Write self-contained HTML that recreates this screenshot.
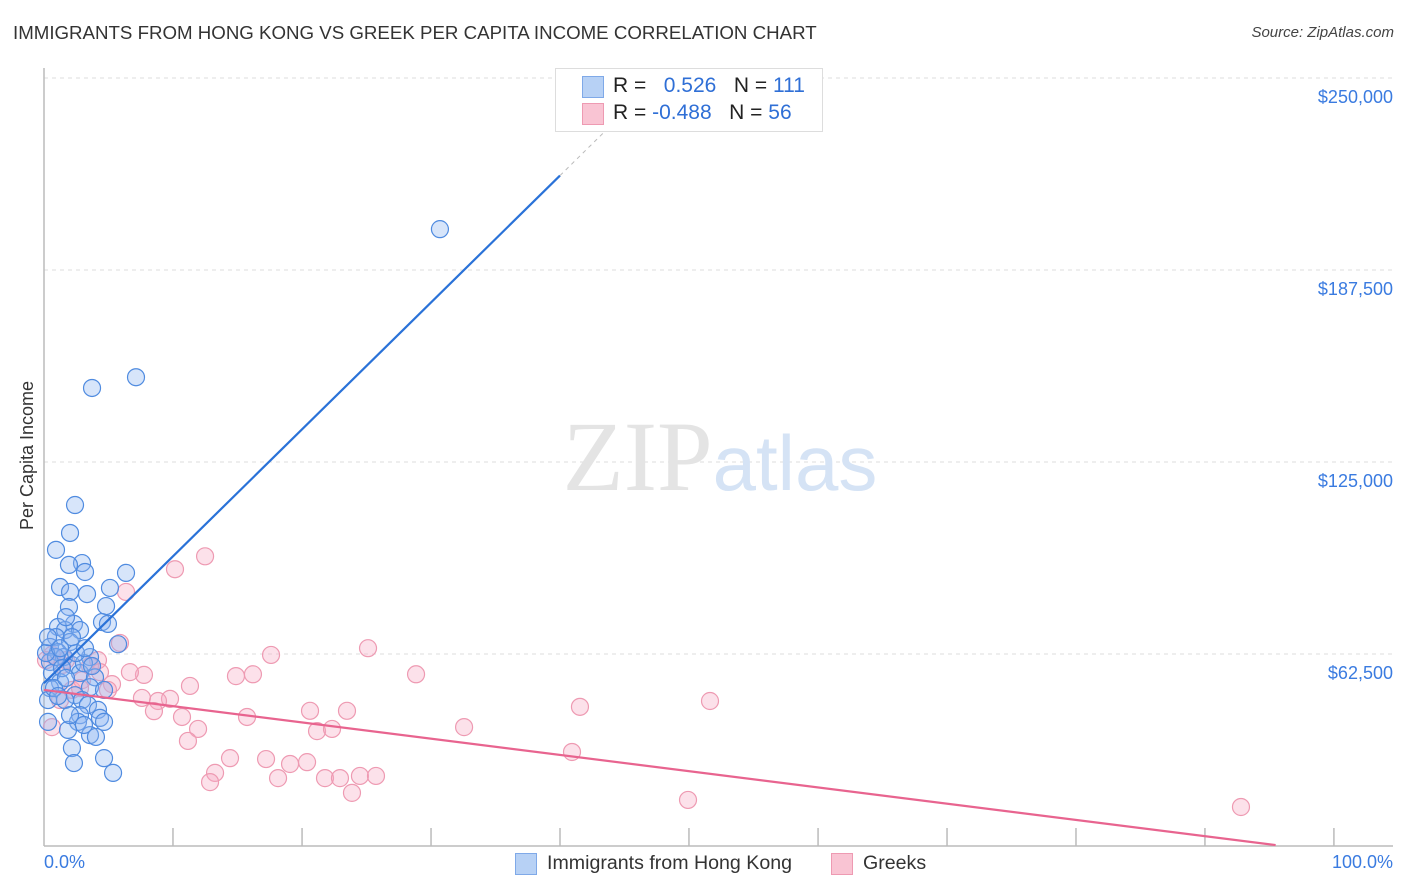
<!DOCTYPE html>
<html><head><meta charset="utf-8"><style>
body{margin:0;background:#fff;font-family:"Liberation Sans",sans-serif}
#w{position:relative;width:1406px;height:892px;overflow:hidden}
.t{position:absolute;white-space:nowrap}
</style></head><body>
<div id="w">
<div class="t" style="left:13px;top:22px;font-size:18.7px;color:#333">IMMIGRANTS FROM HONG KONG VS GREEK PER CAPITA INCOME CORRELATION CHART</div>
<div class="t" style="right:12px;top:24px;font-size:15px;color:#444;font-style:italic">Source: ZipAtlas.com</div>
<div class="t" style="left:-47px;top:445px;font-size:18px;color:#333;transform:rotate(-90deg)">Per Capita Income</div>
<svg id="s" width="1406" height="892" style="position:absolute;left:0;top:0"></svg>
<div style="position:absolute;left:555px;top:68px;width:266px;height:62px;border:1px solid #ddd;background:#fff">
 <div style="position:absolute;left:26px;top:7px;width:20px;height:20px;background:#b7d1f5;border:1px solid #7fa9e8"></div>
 <div style="position:absolute;left:26px;top:34px;width:20px;height:20px;background:#f9c4d3;border:1px solid #ee9ab2"></div>
 <div class="t" style="left:57px;top:5px;font-size:21px;color:#222">R = &nbsp;&nbsp;<span style="color:#2f6fd6">0.526</span>&nbsp;&nbsp;&nbsp;N = <span style="color:#2f6fd6">111</span></div>
 <div class="t" style="left:57px;top:32px;font-size:21px;color:#222">R = <span style="color:#2f6fd6">-0.488</span>&nbsp;&nbsp;&nbsp;N = <span style="color:#2f6fd6">56</span></div>
</div>
<div class="t" style="left:44px;top:852px;font-size:18px;color:#3a7be0">0.0%</div>
<div class="t" style="right:13px;top:852px;font-size:18px;color:#3a7be0">100.0%</div>
<div style="position:absolute;left:515px;top:853px;width:20px;height:20px;background:#b7d1f5;border:1px solid #7fa9e8"></div>
<div class="t" style="left:547px;top:852px;font-size:19.6px;color:#333">Immigrants from Hong Kong</div>
<div style="position:absolute;left:831px;top:853px;width:20px;height:20px;background:#f9c4d3;border:1px solid #ee9ab2"></div>
<div class="t" style="left:863px;top:852px;font-size:19.6px;color:#333">Greeks</div>
</div>
<script>
const yTicks=[62.5,125,187.5,250];
const yTickLabels=["$62,500","$125,000","$187,500","$250,000"];
const xTicks=[9.56,19.13,28.69,38.25,47.81,57.38,66.94,76.5,86.06,95.62];
const blueX=[29.35,6.82,3.56,2.30,1.93,0.89,2.82,1.85,3.04,6.08,1.19,1.93,4.89,3.19,4.60,1.85,4.30,4.74,2.22,1.04,1.56,2.67,0.89,1.93,5.49,0.44,1.04,1.48,3.41,0.44,2.07,0.59,2.67,3.78,1.19,3.41,4.45,0.44,2.30,2.82,1.56,3.26,4.00,2.67,4.15,4.45,2.52,1.78,3.41,3.85,2.07,4.45,2.22,5.12,0.30,0.30,0.89,1.33,0.74,1.63,2.96,2.37,0.15,1.19,0.30,2.07,1.63,3.04,3.56,1.04,1.93,2.96];
const blueY=[200.8,152.6,149.1,111.0,101.9,96.4,92.1,91.5,89.2,88.9,84.3,82.7,84.0,82.0,78.1,77.8,72.9,72.3,72.3,71.3,70.3,70.3,68.0,66.4,65.7,64.8,63.1,61.5,61.5,59.9,58.9,56.3,56.3,54.9,53.3,51.7,50.8,51.4,49.1,47.5,47.5,45.9,44.3,42.6,41.7,40.4,40.4,37.8,36.1,35.5,31.9,28.6,27.0,23.8,40.4,47.5,61.5,57.9,51.4,54.7,59.5,62.8,62.8,64.4,68.0,68.0,74.5,64.4,58.6,48.8,42.6,39.4];
const pinkX=[11.94,9.71,6.08,5.63,24.02,16.83,4.00,3.41,1.33,7.41,14.23,15.49,27.58,10.82,5.04,7.26,9.34,8.45,8.15,10.23,15.05,19.72,22.46,11.42,20.24,21.35,31.14,39.73,49.37,10.67,13.79,16.46,18.24,19.5,12.68,12.31,17.35,20.83,21.94,23.42,24.61,22.83,39.14,47.74,88.73,0.59,2.08,1.19,2.82,4.15,6.37,1.63,2.67,0.59,4.74,0.15];
const pinkY=[94.3,90.1,82.7,66.1,64.4,62.2,60.5,58.6,58.9,55.7,55.3,55.9,55.9,52.1,52.7,48.2,47.9,47.2,43.9,42.0,42.0,44.0,44.0,38.1,37.4,38.1,38.7,45.3,47.2,34.2,28.6,28.3,26.7,27.3,23.8,20.8,22.1,22.1,22.1,22.8,22.8,17.3,30.6,15.0,12.7,38.7,50.8,47.5,54.0,56.6,56.6,60.5,51.4,62.2,50.8,60.5];
const blueFit=[53,4.32];const pinkFit=[50.8,-0.553];
const X=v=>44+v*13.49, Y=v=>846-v*3.072;
const s=document.getElementById('s');const NS='http://www.w3.org/2000/svg';
function mk(t,a){const e=document.createElementNS(NS,t);for(const k in a)e.setAttribute(k,a[k]);s.appendChild(e);return e;}
yTicks.forEach((v,i)=>{
 const g=mk('line',{x1:44,x2:1393,y1:Y(v),y2:Y(v),stroke:'#ddd','stroke-dasharray':'4,4'});
 
 
 const t=mk('text',{x:1393,y:Y(v)+25,'text-anchor':'end','font-size':18,fill:'#3a7be0','font-family':'Liberation Sans, sans-serif'});
 t.textContent=yTickLabels[i];
 
 
});
const ax=mk('line',{x1:44,x2:44,y1:68,y2:846,stroke:'#bbb','stroke-width':1.5});


const bx=mk('line',{x1:44,x2:1393,y1:846,y2:846,stroke:'#bbb','stroke-width':1.5});


xTicks.forEach(v=>{const l=mk('line',{x1:X(v),x2:X(v),y1:828,y2:846,stroke:'#bbb','stroke-width':1.5});
 
 });
const wm=mk('text',{x:720,y:490,'text-anchor':'middle','font-size':100,'font-family':'Liberation Serif, serif',fill:'#e4e4e4'});
wm.innerHTML='ZIP<tspan font-family="Liberation Sans, sans-serif" font-size="78" fill="#d5e3f5">atlas</tspan>';


pinkX.forEach((x,i)=>{const c=mk('circle',{cx:X(x),cy:Y(pinkY[i]),r:8.5,fill:'rgba(246,170,195,0.35)',stroke:'#ee9ab2','stroke-width':1.2});
 
 });
blueX.forEach((x,i)=>{const c=mk('circle',{cx:X(x),cy:Y(blueY[i]),r:8.5,fill:'rgba(140,180,240,0.35)',stroke:'#4f8be0','stroke-width':1.2});
 
 });
const bl=mk('line',{x1:X(0),y1:Y(blueFit[0]),x2:X(38.25),y2:Y(blueFit[0]+blueFit[1]*38.25),stroke:'#2a72d8','stroke-width':2.2});


const bd=mk('line',{x1:X(38.25),y1:Y(blueFit[0]+blueFit[1]*38.25),x2:X(42),y2:Y(blueFit[0]+blueFit[1]*42),stroke:'#bbb','stroke-width':1,'stroke-dasharray':'4,4'});


const pl=mk('line',{x1:X(0),y1:Y(pinkFit[0]),x2:X(91.3),y2:Y(pinkFit[0]+pinkFit[1]*91.3),stroke:'#e8648f','stroke-width':2.2});


</script>
</body></html>
